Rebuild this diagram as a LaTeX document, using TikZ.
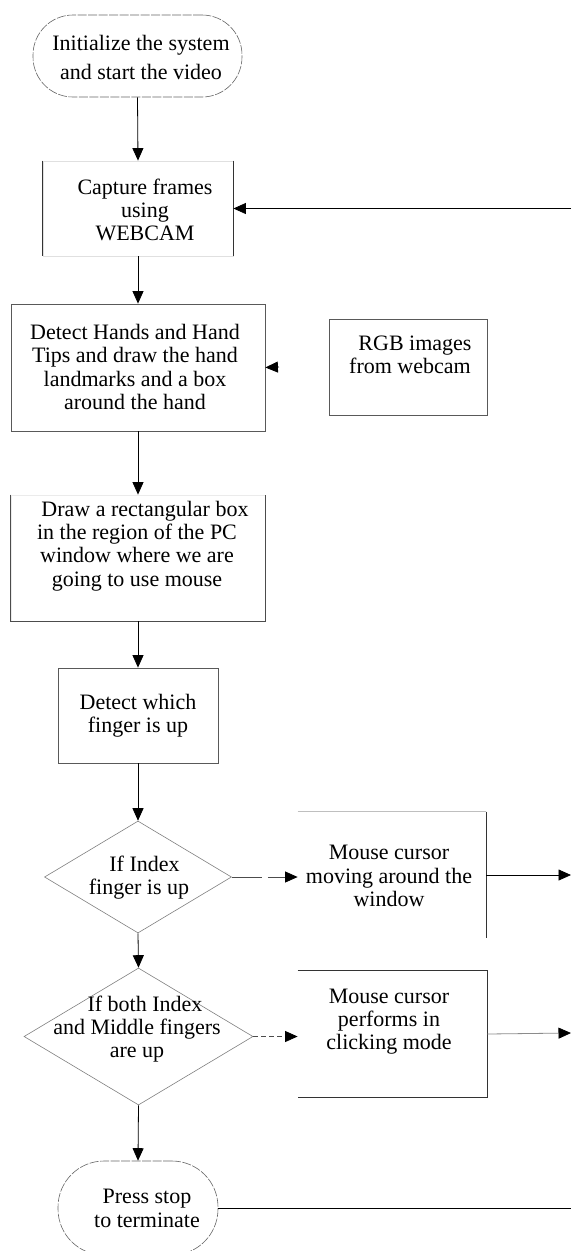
\documentclass[tikz,border=0pt]{standalone}
\usepackage{fontspec}
\setmainfont{Liberation Serif}
\usetikzlibrary{shapes.geometric,arrows.meta}
\begin{document}
\begin{tikzpicture}[x=1pt,y=-1pt,
  txt/.style={font=\fontsize{22}{23.3}\selectfont, align=center, inner sep=0pt},
  shp/.style={inner sep=0pt, line width=0.8pt},
  arr/.style={-{Triangle[length=12.5pt,width=11pt,color=black]}, line width=0.8pt, black},
  term/.style={shp, draw=black!60, line width=0.6pt, dash pattern=on 9pt off 1.5pt},
  dia/.style={shp, diamond, draw=black!50, line width=0.6pt},
  edge/.style={line width=0.8pt, black!80}]
\useasboundingbox[fill=white] (0,0) rectangle (571,1251);

% shapes
\node[term, rounded corners=40pt, minimum width=209pt, minimum height=82pt] (start) at (137.5,56) {};
\node[shp, draw=black!12, minimum width=190pt, minimum height=95pt] (capture) at (138,208.5) {};
\draw[edge] (capture.north west) -- (capture.south west) (capture.north east) -- (capture.south east);
\node[shp, draw=black!65, minimum width=254pt, minimum height=127pt] (detect) at (138,367.5) {};
\node[shp, draw=black!65, minimum width=158pt, minimum height=96pt] (rgb) at (408,367) {};
\node[shp, draw=black!8, minimum width=254pt, minimum height=126pt] (drawbox) at (138,558) {};
\draw[edge, black!70] (drawbox.north west) -- (drawbox.south west) -- (drawbox.south east) -- (drawbox.north east);
\node[shp, draw=black!65, minimum width=160pt, minimum height=95pt] (which) at (138,715.5) {};
\node[dia, minimum width=187pt, minimum height=112pt] (dia1) at (138,877) {};
\node[shp, minimum width=188pt, minimum height=126pt] (mouse1) at (392,875) {};
\draw[line width=0.6pt, black!25] (mouse1.north west) -- (mouse1.north east);
\draw[edge] (mouse1.north east) -- (mouse1.south east);
\node[dia, minimum width=229pt, minimum height=137pt] (dia2) at (138.5,1036.5) {};
\node[shp, minimum width=189pt, minimum height=126pt] (mouse2) at (392.5,1034) {};
\draw[edge] (mouse2.north west) -- (mouse2.north east) -- (mouse2.south east) -- (mouse2.south west);
\node[term, rounded corners=46pt, minimum width=160pt, minimum height=94pt] (stop) at (138,1208) {};

% texts
\node[txt, font=\fontsize{22}{29}\selectfont] (start-t) at (141,57.5) {Initialize the system\\and start the video};
\node[txt] (capture-t) at (145,210) {Capture frames\\using\hspace*{12pt}\\WEBCAM};
\node[txt] (detect-t) at (135,367) {Detect Hands and Hand\\Tips and draw the hand\\landmarks and a box\\around the hand};
\node[txt] (rgb-t) at (410,355) {\hspace*{10pt}RGB images\\from webcam};
\node[txt] (drawbox-t) at (137,546) {\hspace*{16pt}Draw a rectangular box\\in the region of the PC\\window where we are\\going to use mouse};
\node[txt] (which-t) at (138,716) {Detect which\\finger is up};
\node[txt] (dia1-t) at (139,877.5) {\hspace*{11pt}If Index\\finger is up};
\node[txt] (mouse1-t) at (389,876) {Mouse cursor\\moving around the\\window};
\node[txt] (dia2-t) at (137,1029) {\hspace*{16pt}If both Index\\and Middle fingers\\are up};
\node[txt] (mouse2-t) at (389,1021.5) {Mouse cursor\\performs in\\clicking mode};
\node[txt] (stop-t) at (147,1208.5) {Press stop\\to terminate};

% free ends
\coordinate (capin) at (571,208.5);
\coordinate (rgbin) at (279,367);
\coordinate (out1) at (571,875);
\coordinate (out2) at (571,1033);
\coordinate (out3) at (571,1208);

% connectors
\draw[arr] (start.south) -- (capture.north);
\draw[arr] (capin) -- (capture.east);
\draw[arr] (capture.south) -- (detect.north);
\draw[arr] (rgbin) -- (detect.east);
\draw[arr] (detect.south) -- (drawbox.north);
\draw[arr] (drawbox.south) -- (which.north);
\draw[arr] (which.south) -- (dia1.north);
\draw[arr, black!70, dash pattern=on 30pt off 6pt] (dia1.east) -- (dia1.east -| mouse1.west);
\draw[arr] (mouse1.east) -- (out1);
\draw[arr] (dia1.south) -- (dia2.north);
\draw[arr, black!70, dash pattern=on 5pt off 3pt] (dia2.east) -- (dia2.east -| mouse2.west);
\draw[arr, black!45] (mouse2.east) -- (out2);
\draw[arr] (dia2.south) -- (stop.north);
\draw[line width=0.8pt] (stop.east) -- (out3);
\end{tikzpicture}
\end{document}
